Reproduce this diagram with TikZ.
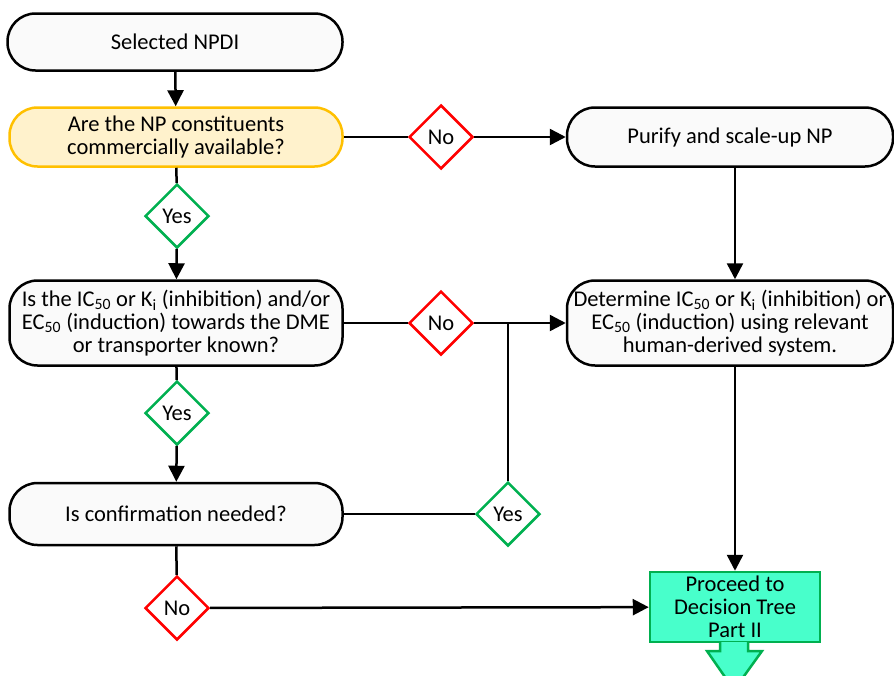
\documentclass[tikz,border=0pt]{standalone}
\usepackage{fontspec}
\setmainfont{Carlito}
\usetikzlibrary{shapes.geometric,arrows.meta}

\definecolor{boxgold}{HTML}{FFC000}
\definecolor{boxcream}{HTML}{FFF2CC}
\definecolor{okgreen}{HTML}{00B050}
\definecolor{mint}{HTML}{48FFCB}

\tikzset{
  every node/.style={font=\fontsize{22.5}{23}\selectfont},
  stepbox/.style={draw=black, fill=white!98!black, line width=2.5pt,
    rounded corners=28pt, align=center, minimum height=57pt, inner sep=1pt},
  qbox/.style={stepbox, draw=boxgold, fill=boxcream},
  nogate/.style={diamond, draw=red, fill=white, line width=2.5pt,
    minimum width=64pt, minimum height=64pt, inner sep=0pt},
  yesgate/.style={nogate, draw=okgreen},
  endbox/.style={draw=okgreen, fill=mint, line width=2.5pt, align=center,
    minimum width=170pt, minimum height=70pt, inner sep=1pt},
  flow/.style={line width=2.5pt, -{Triangle[length=16pt,width=16pt]}},
  plain/.style={line width=2.5pt}
}

\begin{document}
\begin{tikzpicture}[x=1pt,y=-1pt]
  \useasboundingbox (0,0) rectangle (894,675);

  % left column
  \node[stepbox, minimum width=335pt] (npdi) at (175,42) {Selected NPDI};
  \node[qbox, minimum width=333pt, minimum height=59pt] (avail) at (176,137)
    {Are the NP constituents\\commercially available?};
  \node[yesgate] (yes1) at (177,216) {Yes};
  \node[stepbox, minimum width=333pt, minimum height=85pt] (known) at (176,323)
    {Is the IC\textsubscript{50} or K\textsubscript{i} (inhibition) and/or\\EC\textsubscript{50} (induction) towards the DME\\or transporter known?};
  \node[yesgate] (yes2) at (177,413) {Yes};
  \node[stepbox, minimum width=333pt, minimum height=62pt] (confirm) at (176,514)
    {Is confirmation needed?};
  \node[nogate] (no3) at (177,608) {No};

  % middle gates
  \node[nogate] (no1) at (441,137) {No};
  \node[nogate] (no2) at (441,323) {No};
  \node[yesgate] (yes3) at (508,514) {Yes};

  % right column
  \node[stepbox, minimum width=326pt, minimum height=59pt] (purify) at (730,137)
    {Purify and scale-up NP};
  \node[stepbox, minimum width=326pt, minimum height=85pt] (measure) at (730,323)
    {Determine IC\textsubscript{50} or K\textsubscript{i} (inhibition) or\\EC\textsubscript{50} (induction) using relevant\\human-derived system.};
  \node[endbox] (part2) at (735,607) {Proceed to\\Decision Tree\\Part II};

  % down arrow under the last box
  \draw[draw=okgreen, fill=mint, line width=2.5pt]
    (720,642) -- (720,651) -- (707,651) -- (734,690) -- (762,651)
    -- (748,651) -- (748,642);

  % connectors
  \draw[flow] (npdi) -- (avail);
  \draw[plain] (avail) -- (yes1);
  \draw[flow] (yes1) -- (known);
  \draw[plain] (known) -- (yes2);
  \draw[flow] (yes2) -- (confirm);
  \draw[plain] (confirm) -- (no3);
  \draw[flow] (no3) -- (part2);

  \draw[plain] (avail) -- (no1);
  \draw[flow] (no1) -- (purify);
  \draw[plain] (known) -- (no2);
  \draw[flow] (no2) -- (measure);
  \draw[plain] (confirm) -- (yes3);
  \coordinate (join) at (508,323);
  \draw[plain] (yes3) -- (join);

  \draw[flow] (purify.south -| 735,0) -- (measure.north -| 735,0);
  \draw[flow] (measure.south -| 735,0) -- (part2);
\end{tikzpicture}
\end{document}
